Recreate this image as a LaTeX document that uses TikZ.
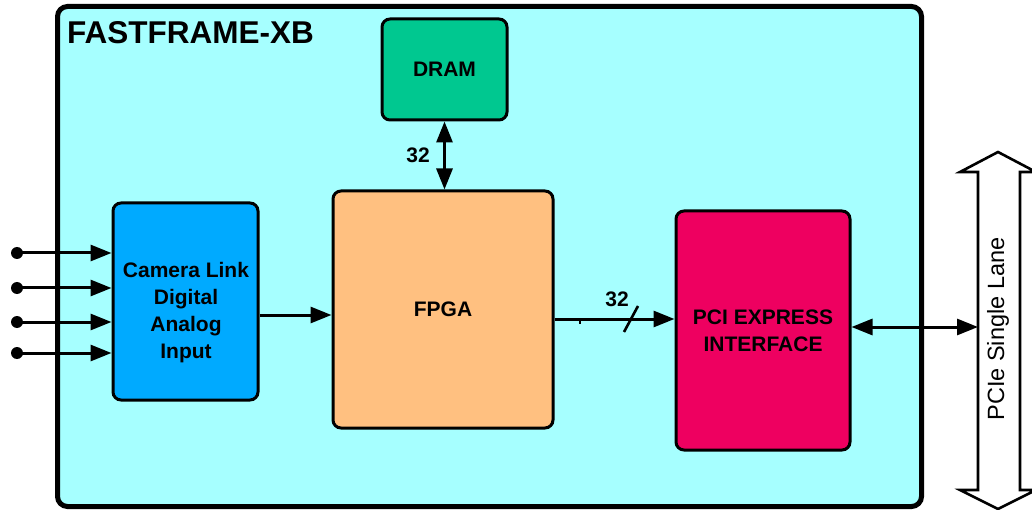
\documentclass[tikz,border=0pt]{standalone}
\usepackage{fontspec}
\setmainfont{Liberation Sans}
\usetikzlibrary{arrows.meta}
\definecolor{outerfill}{RGB}{166,255,255}
\definecolor{camfill}{RGB}{0,170,255}
\definecolor{fpgafill}{RGB}{255,192,128}
\definecolor{dramfill}{RGB}{0,200,144}
\definecolor{pcifill}{RGB}{238,0,96}
\tikzset{
  blk/.style={draw=black, line width=3pt, rounded corners=8pt, align=center,
    font=\fontsize{21}{27}\selectfont\bfseries, inner sep=0pt},
  blktext/.style={align=center, font=\fontsize{21}{27}\selectfont\bfseries, inner sep=0pt},
  arr/.style={line width=3pt, -{Triangle[length=21pt,width=16pt]}},
  darr/.style={line width=3pt, {Triangle[length=21pt,width=16pt]}-{Triangle[length=21pt,width=16pt]}},
  lbl/.style={font=\fontsize{21}{24}\selectfont\bfseries, inner sep=0pt},
}
\begin{document}
\begin{tikzpicture}[x=1pt,y=-1pt]
\useasboundingbox (0,0) rectangle (1032,510);
% outer board
\node[draw=black, line width=5pt, rounded corners=10pt, fill=outerfill,
  minimum width=864pt, minimum height=500pt, inner sep=0pt] (board) at (489.5,256.5) {};
\node[anchor=west, font=\fontsize{31.5}{33}\selectfont\bfseries, inner sep=0pt] (title) at (67,33) {FASTFRAME-XB};
% blocks
\node[blk, fill=camfill, minimum width=145pt, minimum height=197pt] (cam) at (185.5,301.5) {};
\node[blktext] (camtxt) at (186,313) {Camera Link\\Digital\\Analog\\Input};
\node[blk, fill=fpgafill, minimum width=220pt, minimum height=237pt] (fpga) at (443,309.5) {FPGA};
\node[blk, fill=dramfill, minimum width=125pt, minimum height=101pt] (dram) at (444.5,69.5) {DRAM};
\node[blk, fill=pcifill, minimum width=174pt, minimum height=239pt] (pci) at (763,330.5)
  {PCI EXPRESS\\INTERFACE};
% inputs
\foreach \i/\y in {1/253,2/288,3/322,4/353}{
  \coordinate (in\i) at (17,\y);
  \fill (in\i) circle (6pt);
  \draw[arr] (in\i) -- (in\i -| cam.west);
}
% cam -> fpga
\coordinate (c2f) at (0,315);
\draw[arr] (c2f -| cam.east) -- (c2f -| fpga.west);
% dram <-> fpga
\draw[darr] (dram.south) -- (fpga.north -| dram.south);
\node[lbl] (l32a) at (418,155) {32};
% fpga -> pci
\coordinate (f2p) at (0,319);
\draw[arr] (f2p -| fpga.east) -- (f2p -| pci.west);
\draw[line width=2pt] (580,319) -- (580,324);
\draw[line width=2.6pt] (624,332) -- (638,306);
\node[lbl] (l32b) at (617,299) {32};
% PCIe hollow arrow
\draw[line width=2.6pt, fill=white, line join=miter]
  (998,152) -- (1036,172) -- (1020,172) -- (1020,490) -- (1036,490) -- (998,509)
  -- (960,490) -- (978,490) -- (978,172) -- (960,172) -- cycle;
\node[rotate=90, font=\fontsize{23.5}{26}\selectfont, inner sep=0pt] (pcie) at (998,329) {PCIe Single Lane};
\coordinate (lane) at (978,327);
\draw[darr] (pci.east |- lane) -- (lane);
\end{tikzpicture}
\end{document}
